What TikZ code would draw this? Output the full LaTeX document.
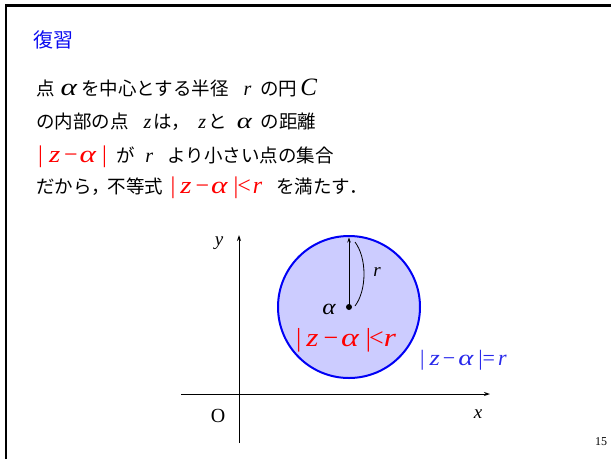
\documentclass[tikz,border=0pt]{standalone}
\usepackage{fontspec}
\usepackage{graphicx}
\setmainfont{Liberation Serif}
\newfontfamily\jp{Noto Sans CJK JP}
\newfontfamily\tm{Liberation Serif}
\usetikzlibrary{arrows.meta}
\definecolor{titleblue}{RGB}{10,10,240}
\definecolor{eqblue}{RGB}{40,40,235}
\definecolor{circfill}{RGB}{204,204,255}
\definecolor{circline}{RGB}{0,0,245}
\definecolor{myred}{RGB}{255,0,0}
\newcommand\fs[1]{\fontsize{#1}{#1}\selectfont}
\newcommand\ga[1]{\scalebox{1.3}[1]{\fs{#1}\tm\itshape α}}
\newcommand\gz[1]{\scalebox{1.2}[1]{\fs{#1}\tm\itshape z}}
\newcommand\gr[1]{{\fs{#1}\tm\itshape r}}
\newcommand\gb[1]{{\fs{#1}\tm |}}
\newcommand\gm[1]{{\fs{#1}\tm −}}
\newcommand\gl[1]{{\fs{#1}\tm <}}
\newcommand\gq[1]{{\fs{#1}\tm =}}
\newcommand\kk[1]{\kern#1pt\relax}
\tikzset{
  line/.style={anchor=base west, inner sep=0pt, font=\jp\fs{18.5}},
  lbl/.style={inner sep=0pt},
  axis/.style={line width=1pt, -{Stealth[length=6pt,width=4pt]}},
}
\begin{document}
\begin{tikzpicture}[x=1pt,y=-1pt]
\useasboundingbox (0,0) rectangle (611,459);
\draw[line width=2.5pt] (6.2,459) -- (6.2,5.3) -- (611,5.3);
\node[anchor=west, inner sep=0pt, text=titleblue, font=\jp\fs{20}] (title) at (33,40) {復習};

\node[line] (l1) at (36,95) {点\kk{6}\ga{24}\kk{4}を中心とする半径\kk{15}\gr{20}\kk{9}の円\kk{3}{\fs{25}\tm\itshape C}};
\node[line] (l2) at (36,128) {の内部の点\kk{15}{\fs{20}\tm\itshape z}\kk{2}は，\kk{8}{\fs{20}\tm\itshape z}\kk{2}と\kk{10}\ga{22}\kk{9}の距離};
\node[line] (l3) at (36,162) {{\color{myred}\kk{2}\gb{24}\kk{6}\gz{24}\kk{4}\gm{24}\kk{2}\ga{24}\kk{6}\gb{24}}\kk{10}が\kk{10}\gr{20}\kk{14.5}より小さい点の集合};
\node[line] (l4) at (36,193) {だから，\kk{-2}不等式\kk{7.5}{\color{myred}\gb{24}\kk{5}\gz{24}\kk{4}\gm{24}\kk{2}\ga{24}\kk{6}\gb{24}\kk{-1}\gl{24}\kk{2}\gr{24}}\kk{14}を満たす．};

% axes
\coordinate (xs) at (181,394);
\coordinate (xe) at (490,394);
\coordinate (ys) at (239,443);
\coordinate (ye) at (239,235);
\draw[axis] (xs) -- (xe);
\draw[axis] (ys) -- (ye);
\node[lbl, font=\tm\itshape\fs{19}] (ylab) at (219,243) {y};
\node[lbl, font=\tm\itshape\fs{19}] (xlab) at (478,414) {x};
\node[lbl, font=\tm\fs{20}] (olab) at (218,416) {O};

% circle
\node[circle, draw=circline, fill=circfill, line width=2pt, minimum size=142pt, inner sep=0pt] (C) at (349,307) {};
\fill (C.center) circle (3pt);
\coordinate (rtop) at (349,237.5);
\draw[line width=1pt, -{Stealth[length=5pt,width=3.5pt]}] (C.center) -- (rtop);
\coordinate (a1) at (355,242);
\coordinate (a2) at (355,306);
\draw[line width=0.8pt] (a1) .. controls (367,258) and (367,290) .. (a2);
\node[lbl, font=\tm\itshape\fs{19}] (rlab) at (377,272) {r};
\node[lbl] (alab) at (329,309) {\scalebox{1.15}[1]{\fs{22}\tm\itshape α}};
\node[anchor=base west, inner sep=0pt, text=myred] (ineq) at (296,346) {\gb{26}\kk{5}\gz{26}\kk{5}\gm{26}\kk{3}\ga{26}\kk{7}\gb{26}\kk{-2}\gl{26}\kk{0}\scalebox{1.2}[1]{\gr{26}}};
\node[anchor=base west, inner sep=0pt, text=eqblue] (eq) at (420,365) {\gb{22}\kk{5}\gz{22}\kk{3}\gm{22}\kk{3}\ga{22}\kk{5}\gb{22}\kk{0}\gq{22}\kk{3}\gr{22}};
\node[inner sep=0pt, font=\tm\fs{12}] (pg) at (601,442) {15};
\end{tikzpicture}
\end{document}
